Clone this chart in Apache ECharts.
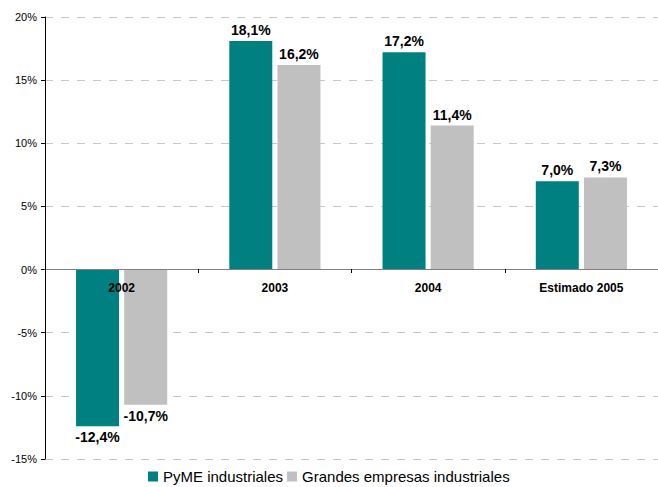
<!DOCTYPE html>
<html>
<head>
<meta charset="utf-8">
<script src="https://cdn.jsdelivr.net/npm/echarts@6/dist/echarts.min.js"></script>
<style>
  html, body { margin: 0; padding: 0; background: #fff; }
  #chart { width: 658px; height: 487px; }
</style>
</head>
<body>
<div id="chart"></div>
<script>
const categories = ['2002', '2003', '2004', 'Estimado 2005'];
const pymeValues = [-12.4, 18.1, 17.2, 7.0];
const grandesValues = [-10.7, 16.2, 11.4, 7.3];
const seriesNames = ['PyME industriales', 'Grandes empresas industriales'];

const myChart = echarts.init(document.getElementById('chart'), null, { renderer: 'svg' });

function pct(v) {
  return v.toFixed(1).replace('.', ',') + '%';
}

const labelStyle = {
  show: true,
  fontFamily: 'Liberation Sans, Arial, sans-serif',
  fontSize: 14,
  fontWeight: 'bold',
  color: '#000',
  distance: 4,
  formatter: p => pct(p.value)
};

let option = {
  animation: false,
  textStyle: { fontFamily: 'Liberation Sans, Arial, sans-serif' },
  grid: {
    left: 45,
    top: 17,
    width: 620,
    bottom: 28
  },
  legend: {
    data: seriesNames,
    left: 143,
    bottom: -2,
    itemWidth: 10,
    itemHeight: 10,
    itemGap: 4,
    icon: 'rect',
    textStyle: { fontSize: 15, color: '#000' }
  },
  xAxis: {
    type: 'category',
    data: categories,
    position: 'bottom',
    // the axis sits on 0%, 190px above the grid bottom
    offset: -190,
    z: 10,
    axisLine: { onZero: false, lineStyle: { color: '#808080', width: 1 } },
    axisTick: { show: true, length: 4, lineStyle: { color: '#000' } },
    axisLabel: {
      fontSize: 12,
      fontWeight: 'bold',
      color: '#000',
      margin: 13
    }
  },
  yAxis: {
    type: 'value',
    min: -15,
    max: 20,
    interval: 5,
    axisLine: { show: true, lineStyle: { color: '#000' } },
    axisTick: { show: true, length: 4, lineStyle: { color: '#000' } },
    axisLabel: {
      fontSize: 11,
      color: '#000',
      margin: 8,
      formatter: v => v + '%'
    },
    splitLine: {
      show: true,
      lineStyle: { color: '#c8c8c8', type: [8, 8], width: 1 }
    }
  },
  series: [
    {
      name: seriesNames[0],
      type: 'bar',
      data: pymeValues,
      barWidth: 43,
      barGap: '12%',
      itemStyle: { color: '#008080' },
      label: Object.assign({}, labelStyle, {
        position: 'top'
      })
    },
    {
      name: seriesNames[1],
      type: 'bar',
      data: grandesValues,
      barWidth: 43,
      itemStyle: { color: '#c0c0c0' },
      label: Object.assign({}, labelStyle, {
        position: 'top'
      })
    }
  ]
};

// negative bars get their label below the bar
option.series.forEach(s => {
  s.data = s.data.map(v => v < 0 ? { value: v, label: { position: 'bottom' } } : v);
});

myChart.setOption(option);
</script>
</body>
</html>
